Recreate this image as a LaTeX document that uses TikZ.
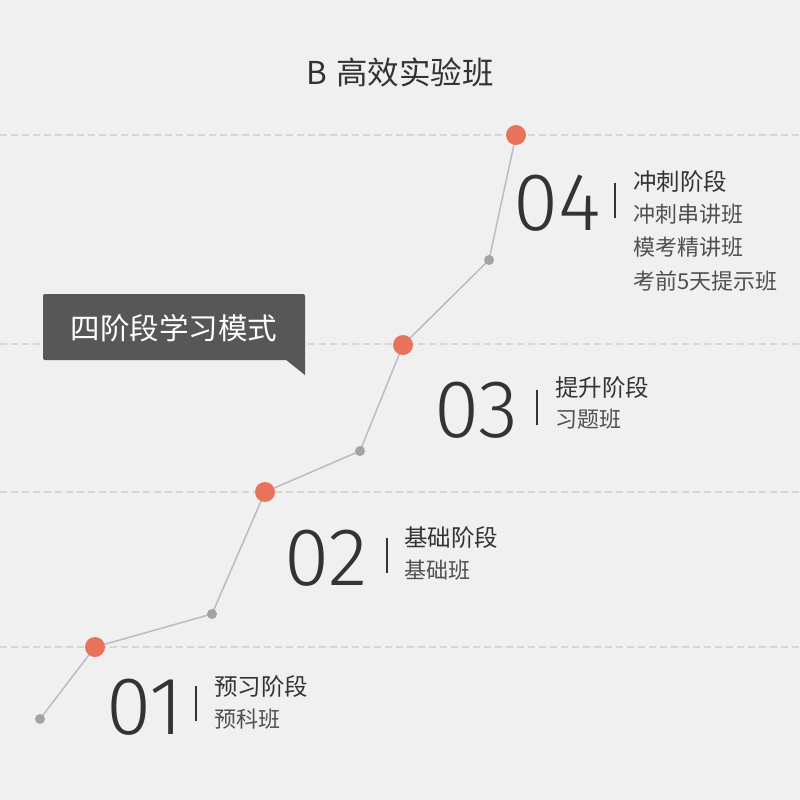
\documentclass[tikz,border=0pt]{standalone}
\usepackage{fontspec}
\setmainfont{Noto Sans CJK SC}
\newfontfamily\cjk{Noto Sans CJK SC}
\newfontfamily\numfont{Fira Sans}[UprightFont={* Light}]
\definecolor{bg}{HTML}{F0F0F0}
\definecolor{dashc}{HTML}{D6D6D6}
\definecolor{pathc}{HTML}{B9BCC8}
\definecolor{orangec}{HTML}{E8735A}
\definecolor{grayc}{HTML}{A3A3A3}
\definecolor{boxc}{HTML}{575757}
\definecolor{txt}{HTML}{333333}
\definecolor{subtxt}{HTML}{505050}
\tikzset{
  guide/.style={draw=dashc, line width=1.2pt, dash pattern=on 7pt off 4pt},
  bigdot/.style={circle, fill=orangec, minimum size=20pt, inner sep=0pt},
  smalldot/.style={circle, fill=grayc, minimum size=10pt, inner sep=0pt},
  numtxt/.style={anchor=base west, inner sep=0pt, text=txt, font=\numfont\fontsize{82}{82}\selectfont},
  headtxt/.style={anchor=base west, inner sep=0pt, text height=0.8em, text depth=0.08em, text=txt, font=\cjk\fontsize{23.5}{23.5}\selectfont},
  subline/.style={anchor=base west, inner sep=0pt, text height=0.8em, text depth=0.08em, text=subtxt, font=\cjk\fontsize{22}{22}\selectfont},
  sepbar/.style={draw=txt, line width=1.2pt}
}
\begin{document}
\begin{tikzpicture}[x=1pt,y=-1pt]
\fill[bg] (0,0) rectangle (800,800);
\useasboundingbox (0,0) rectangle (800,800);
% guides
\coordinate (g1a) at (0,135); \coordinate (g1b) at (800,135);
\coordinate (g2a) at (0,344); \coordinate (g2b) at (800,344);
\coordinate (g3a) at (0,492); \coordinate (g3b) at (800,492);
\coordinate (g4a) at (0,647); \coordinate (g4b) at (800,647);
\draw[guide] (g1a) -- (g1b);
\draw[guide] (g2a) -- (g2b);
\draw[guide] (g3a) -- (g3b);
\draw[guide] (g4a) -- (g4b);
% title
\node[inner sep=0pt, text=txt, font=\cjk\fontsize{31.5}{31.5}\selectfont] (title) at (400,72) {B\hspace{0.3em}高效实验班};
% box
\fill[boxc, rounded corners=2pt] (43,294) -- (305,294) -- (305,360) -- (43,360) -- cycle;
\fill[boxc] (285,359) -- (305,359) -- (305,375) -- cycle;
\node[inner sep=0pt, text=white, font=\cjk\fontsize{29.5}{29.5}\selectfont] (label) at (174,328) {四阶段学习模式};
% path points
\coordinate (p0) at (40,719);
\coordinate (p1) at (95,647);
\coordinate (p2) at (212,614);
\coordinate (p3) at (265,492);
\coordinate (p4) at (360,451);
\coordinate (p5) at (403,345);
\coordinate (p6) at (489,260);
\coordinate (p7) at (516,135);
\draw[pathc, line width=1.5pt] (p0) -- (p1) -- (p2) -- (p3) -- (p4) -- (p5) -- (p6) -- (p7);
\node[smalldot] (d0) at (p0) {};
\node[bigdot] (d1) at (p1) {};
\node[smalldot] (d2) at (p2) {};
\node[bigdot] (d3) at (p3) {};
\node[smalldot] (d4) at (p4) {};
\node[bigdot] (d5) at (p5) {};
\node[smalldot] (d6) at (p6) {};
\node[bigdot] (d7) at (p7) {};
% stage 04
\node[numtxt] (n4) at (513,230) {04};
\coordinate (b4a) at (615,183); \coordinate (b4b) at (615,218);
\draw[sepbar] (b4a) -- (b4b);
\node[headtxt] (h4) at (633,190) {冲刺阶段};
\node[subline] (s4a) at (633,222.5) {冲刺串讲班};
\node[subline] (s4b) at (633,255.5) {模考精讲班};
\node[subline] (s4c) at (633,289.5) {考前5天提示班};
% stage 03
\node[numtxt] (n3) at (434,437) {03};
\coordinate (b3a) at (537,390); \coordinate (b3b) at (537,425);
\draw[sepbar] (b3a) -- (b3b);
\node[headtxt] (h3) at (555,396) {提升阶段};
\node[subline] (s3a) at (555,427.5) {习题班};
% stage 02
\node[numtxt] (n2) at (284,585) {02};
\coordinate (b2a) at (387,538); \coordinate (b2b) at (387,573);
\draw[sepbar] (b2a) -- (b2b);
\node[headtxt] (h2) at (404,546) {基础阶段};
\node[subline] (s2a) at (404,578.5) {基础班};
% stage 01
\node[numtxt] (n1) at (106,734) {01};
\coordinate (b1a) at (196,686); \coordinate (b1b) at (196,721);
\draw[sepbar] (b1a) -- (b1b);
\node[headtxt] (h1) at (214,695) {预习阶段};
\node[subline] (s1a) at (214,727.5) {预科班};
\end{tikzpicture}
\end{document}
